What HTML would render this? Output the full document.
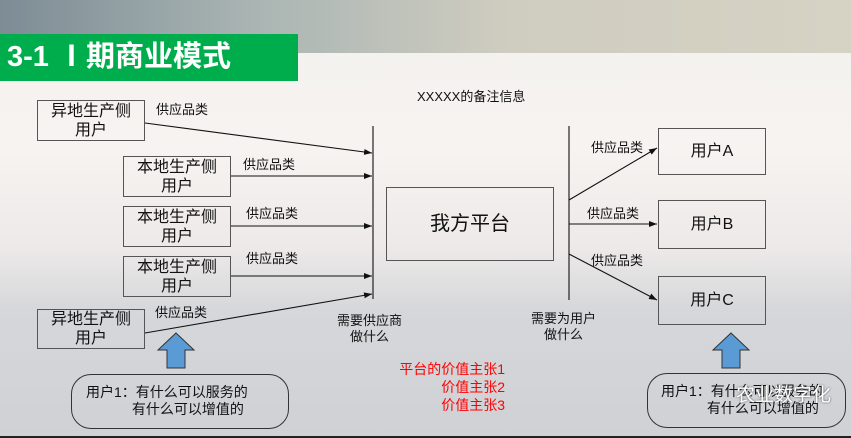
<!DOCTYPE html>
<html><head><meta charset="utf-8"><style>
body{margin:0;width:851px;height:438px;overflow:hidden;position:relative;font-family:"Liberation Sans","Noto Sans CJK SC",sans-serif;color:#111;
background:linear-gradient(180deg,#f3f1ee 0px,#f6f3f0 150px,#ece9e8 250px,#d6d7da 310px,#cfd1d5 438px);}
.top{position:absolute;left:0;top:0;width:851px;height:53px;background:linear-gradient(90deg,#7d8c95 0%,#aab5b3 30%,#cfcdc0 60%,#d6d2c4 100%);}
.ban{position:absolute;left:0;top:34px;width:298px;height:47px;background:#00ad4d;color:#fff;font-weight:bold;font-size:29px;line-height:47px;padding-left:7px;box-sizing:border-box;}
.b{position:absolute;border:1.5px solid #555;box-sizing:border-box;text-align:center;font-size:16px;line-height:19px;display:flex;align-items:center;justify-content:center;}
.t{position:absolute;font-size:13px;white-space:nowrap;line-height:16px;}
.r{color:#f00;text-align:right;font-size:14px;}
.rb{position:absolute;border:1.5px solid #333;border-radius:20px;box-sizing:border-box;}
</style></head><body>
<div class="top"></div>
<div class="ban">3-1 Ⅰ期商业模式</div>
<div class="b" style="left:37px;top:100px;width:108px;height:41px">异地生产侧<br>用户</div>
<div class="b" style="left:123px;top:156px;width:108px;height:41px">本地生产侧<br>用户</div>
<div class="b" style="left:123px;top:206px;width:108px;height:41px">本地生产侧<br>用户</div>
<div class="b" style="left:123px;top:256px;width:108px;height:41px">本地生产侧<br>用户</div>
<div class="b" style="left:37px;top:309px;width:108px;height:40px">异地生产侧<br>用户</div>
<div class="b" style="left:386px;top:187px;width:168px;height:74px;font-size:20px">我方平台</div>
<div class="b" style="left:658px;top:128px;width:108px;height:47px">用户A</div>
<div class="b" style="left:658px;top:200px;width:108px;height:49px">用户B</div>
<div class="b" style="left:658px;top:276px;width:108px;height:49px">用户C</div>
<div class="t" style="left:156px;top:102px">供应品类</div>
<div class="t" style="left:243px;top:157px">供应品类</div>
<div class="t" style="left:246px;top:206px">供应品类</div>
<div class="t" style="left:246px;top:251px">供应品类</div>
<div class="t" style="left:155px;top:305px">供应品类</div>
<div class="t" style="left:591px;top:140px">供应品类</div>
<div class="t" style="left:587px;top:206px">供应品类</div>
<div class="t" style="left:591px;top:253px">供应品类</div>
<div class="t" style="left:417px;top:89px">XXXXX的备注信息</div>
<div class="t" style="left:337px;top:313px;text-align:center">需要供应商<br>做什么</div>
<div class="t" style="left:531px;top:311px;text-align:center">需要为用户<br>做什么</div>
<div class="t r" style="left:385px;top:360px;width:120px;line-height:18px">平台的价值主张1<br>价值主张2<br>价值主张3</div>
<div class="rb" style="left:71px;top:374px;width:218px;height:55px"></div>
<div class="t" style="left:86px;top:384px;line-height:17px;font-size:14px">用户1：有什么可以服务的<br>　　　 有什么可以增值的</div>
<div class="rb" style="left:647px;top:373px;width:199px;height:55px"></div>
<div class="t" style="left:661px;top:383px;line-height:17px;font-size:14px">用户1：有什么可以服务的<br>　　　 有什么可以增值的</div>
<div class="t" style="left:736px;top:388px;font-size:19px;color:#fff;text-shadow:0 0 2px #444">农业数字化</div>
<svg width="851" height="438" style="position:absolute;left:0;top:0">
<defs><marker id="a" markerUnits="userSpaceOnUse" markerWidth="8" markerHeight="6" refX="8" refY="3" orient="auto"><path d="M0,0L8,3L0,6z" fill="#111"/></marker></defs>
<g stroke="#111" stroke-width="1.1" fill="none">
<line x1="373" y1="126" x2="373" y2="299"/>
<line x1="569" y1="126" x2="569" y2="300"/>
<line x1="145" y1="123" x2="372" y2="153" marker-end="url(#a)"/>
<line x1="231" y1="176" x2="372" y2="176" marker-end="url(#a)"/>
<line x1="231" y1="226" x2="372" y2="226" marker-end="url(#a)"/>
<line x1="231" y1="276" x2="372" y2="276" marker-end="url(#a)"/>
<line x1="145" y1="333" x2="372" y2="294" marker-end="url(#a)"/>
<line x1="569" y1="200" x2="657" y2="148" marker-end="url(#a)"/>
<line x1="569" y1="224" x2="657" y2="224" marker-end="url(#a)"/>
<line x1="569" y1="254" x2="657" y2="300" marker-end="url(#a)"/>
</g>
<path d="M176,333L194,350H185V368H167V350H158Z" fill="#5b9bd5" stroke="#333" stroke-width="1"/>
<path d="M731,333L749,350H740V368H722V350H713Z" fill="#5b9bd5" stroke="#333" stroke-width="1"/>
<line x1="0" y1="437" x2="851" y2="437" stroke="#222" stroke-width="2"/>
</svg>
</body></html>
